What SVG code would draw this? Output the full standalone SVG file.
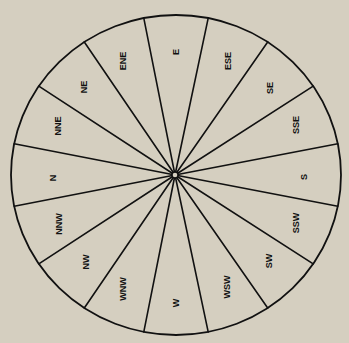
<svg xmlns="http://www.w3.org/2000/svg" width="349" height="343" viewBox="0 0 349 343">
<style>
.bg{fill:#d5cfc0}
.rim{fill:#d5cfc0;stroke:#111;stroke-width:1.8}
.spoke{stroke:#111;stroke-width:1.6;fill:none;stroke-linecap:round}
.lbl{font-family:"Liberation Sans",Arial,sans-serif;font-size:9px;font-weight:bold;fill:#111;text-anchor:middle;dominant-baseline:central}
</style>
<rect class="bg" x="0" y="0" width="349" height="343"/>
<g id="rim"><ellipse class="rim" cx="176" cy="175" rx="165" ry="160"/></g>
<g id="connectors">
<line class="spoke" x1="175" y1="175" x2="337.8" y2="206.2"/>
<line class="spoke" x1="175" y1="175" x2="313.2" y2="263.9"/>
<line class="spoke" x1="175" y1="175" x2="267.7" y2="308.0"/>
<line class="spoke" x1="175" y1="175" x2="208.2" y2="331.9"/>
<line class="spoke" x1="175" y1="175" x2="143.8" y2="331.9"/>
<line class="spoke" x1="175" y1="175" x2="84.3" y2="308.0"/>
<line class="spoke" x1="175" y1="175" x2="38.8" y2="263.9"/>
<line class="spoke" x1="175" y1="175" x2="14.2" y2="206.2"/>
<line class="spoke" x1="175" y1="175" x2="14.2" y2="143.8"/>
<line class="spoke" x1="175" y1="175" x2="38.8" y2="86.1"/>
<line class="spoke" x1="175" y1="175" x2="84.3" y2="42.0"/>
<line class="spoke" x1="175" y1="175" x2="143.8" y2="18.1"/>
<line class="spoke" x1="175" y1="175" x2="208.2" y2="18.1"/>
<line class="spoke" x1="175" y1="175" x2="267.7" y2="42.0"/>
<line class="spoke" x1="175" y1="175" x2="313.2" y2="86.1"/>
<line class="spoke" x1="175" y1="175" x2="337.8" y2="143.8"/>
</g>
<g id="hub"><circle cx="175" cy="175" r="3" fill="#d5cfc0" stroke="#111" stroke-width="1.4"/></g>
<g id="E"><text class="lbl" transform="translate(176,52) rotate(-90)">E</text></g>
<g id="ESE"><text class="lbl" transform="translate(228,61) rotate(-90)">ESE</text></g>
<g id="SE"><text class="lbl" transform="translate(270,88) rotate(-90)">SE</text></g>
<g id="SSE"><text class="lbl" transform="translate(296,125) rotate(-90)">SSE</text></g>
<g id="S"><text class="lbl" transform="translate(304,177) rotate(-90)">S</text></g>
<g id="SSW"><text class="lbl" transform="translate(296,223) rotate(-90)">SSW</text></g>
<g id="SW"><text class="lbl" transform="translate(269,261) rotate(-90)">SW</text></g>
<g id="WSW"><text class="lbl" transform="translate(227,287) rotate(-90)">WSW</text></g>
<g id="W"><text class="lbl" transform="translate(176,303) rotate(-90)">W</text></g>
<g id="WNW"><text class="lbl" transform="translate(123,289) rotate(-90)">WNW</text></g>
<g id="NW"><text class="lbl" transform="translate(86,262) rotate(-90)">NW</text></g>
<g id="NNW"><text class="lbl" transform="translate(59,224) rotate(-90)">NNW</text></g>
<g id="N"><text class="lbl" transform="translate(53,178) rotate(-90)">N</text></g>
<g id="NNE"><text class="lbl" transform="translate(58,126) rotate(-90)">NNE</text></g>
<g id="NE"><text class="lbl" transform="translate(84,87) rotate(-90)">NE</text></g>
<g id="ENE"><text class="lbl" transform="translate(123,61) rotate(-90)">ENE</text></g>
</svg>
